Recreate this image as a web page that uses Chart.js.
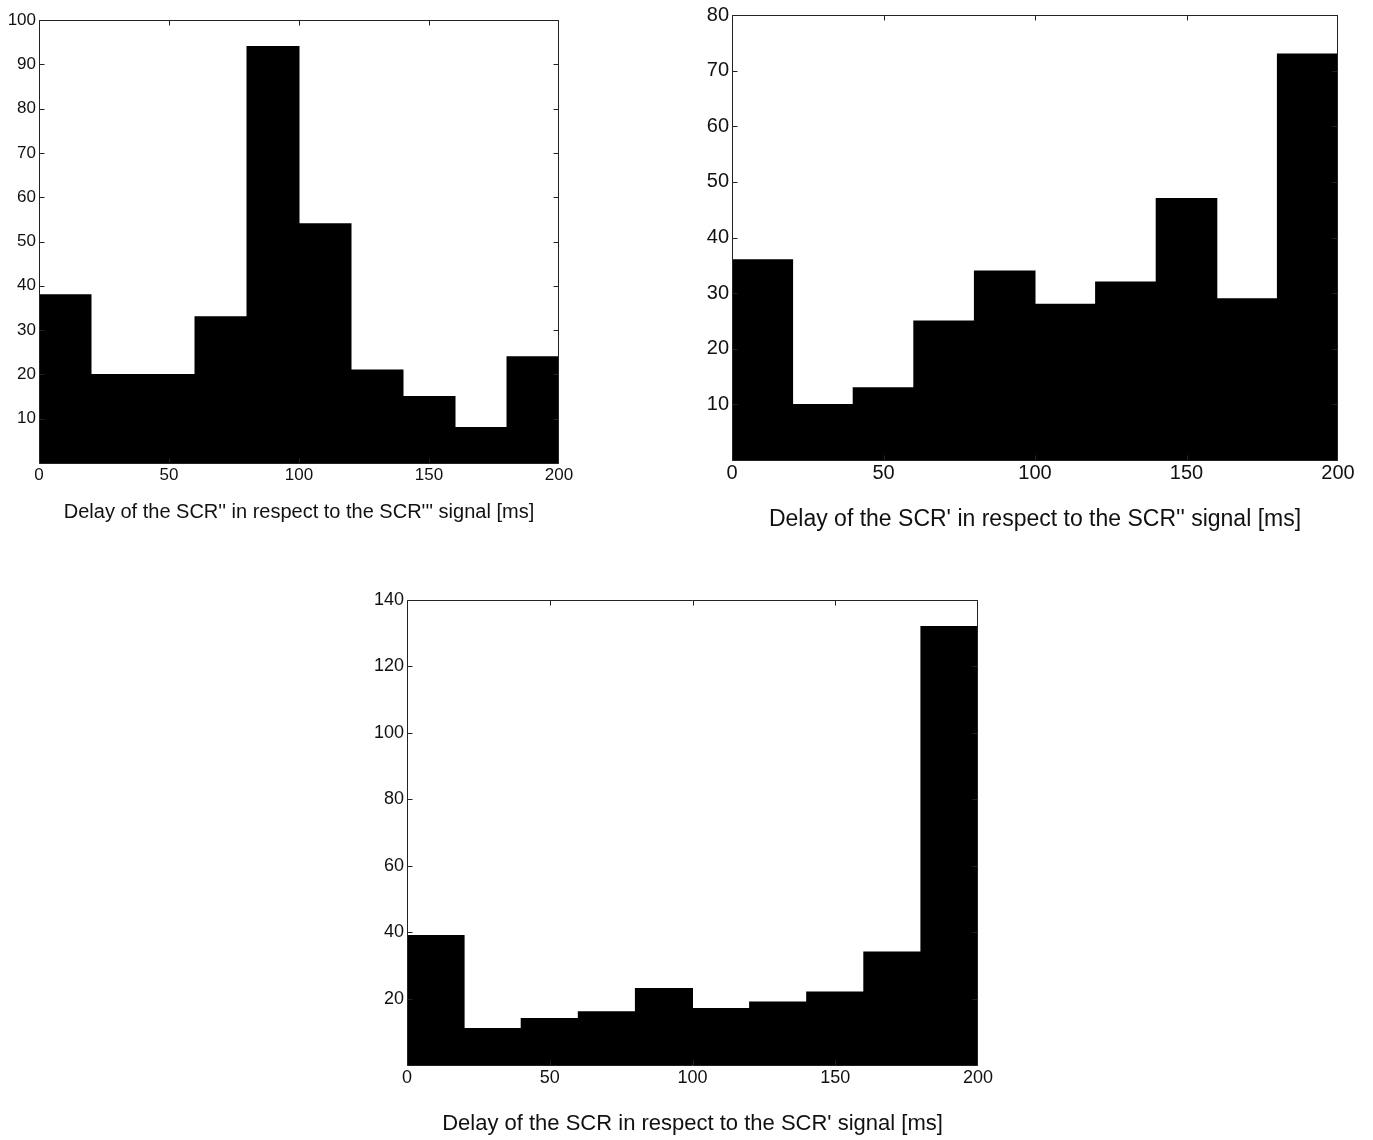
<!DOCTYPE html>
<html>
<head>
<meta charset="utf-8">
<script src="https://cdn.jsdelivr.net/npm/chart.js@4/dist/chart.umd.min.js"></script>
<style>
  body { margin: 0; background: #fff; width: 1373px; height: 1140px; position: relative; overflow: hidden; }
  canvas { position: absolute; }
</style>
</head>
<body>
<canvas id="hist1" width="600" height="530" style="left:0px;top:0px"></canvas>
<canvas id="hist2" width="683" height="540" style="left:690px;top:0px"></canvas>
<canvas id="hist3" width="700" height="570" style="left:340px;top:570px"></canvas>
<script>
// bin centres of the 20 ms wide bins
const binCenters = [10, 30, 50, 70, 90, 110, 130, 150, 170, 190];
const xTicks = [0, 50, 100, 150, 200];

// counts per bin
const countsScr2 = [38, 20, 20, 33, 94, 54, 21, 15, 8, 24];
const countsScr1 = [36, 10, 13, 25, 34, 28, 32, 47, 29, 73];
const countsScr0 = [39, 11, 14, 16, 23, 17, 19, 22, 34, 132];

const yTicks1 = [10, 20, 30, 40, 50, 60, 70, 80, 90, 100];
const yTicks2 = [10, 20, 30, 40, 50, 60, 70, 80];
const yTicks3 = [20, 40, 60, 80, 100, 120, 140];

Chart.defaults.font.family = "'Liberation Sans', Arial, sans-serif";

// MATLAB-like box with ticks pointing inward
const frame = {
  id: 'frame',
  afterDatasetsDraw(chart) {
    const { ctx, chartArea: a, scales: { x, y } } = chart;
    const left = Math.round(a.left) + 0.5, right = Math.round(a.right) - 0.5;
    const top = Math.round(a.top) + 0.5, bottom = Math.round(a.bottom) + 0.5;
    ctx.save();
    ctx.strokeStyle = '#222';
    ctx.lineWidth = 1;
    ctx.beginPath();
    x.ticks.forEach(t => {
      const px = Math.min(Math.round(x.getPixelForValue(t.value)) + 0.5, right);
      ctx.moveTo(px, bottom); ctx.lineTo(px, bottom - 5);
      ctx.moveTo(px, top); ctx.lineTo(px, top + 5);
    });
    y.ticks.forEach(t => {
      const py = Math.max(Math.round(y.getPixelForValue(t.value)) + 0.5, top);
      ctx.moveTo(left, py); ctx.lineTo(left + 5, py);
      ctx.moveTo(right, py); ctx.lineTo(right - 5, py);
    });
    ctx.rect(left, top, right - left, bottom - top);
    ctx.stroke();
    ctx.restore();
  }
};

function histogram(id, counts, yMax, yTicks, label, s) {
  return new Chart(document.getElementById(id), {
    type: 'bar',
    data: {
      datasets: [{
        data: binCenters.map((c, i) => ({ x: c, y: counts[i] })),
        backgroundColor: '#000',
        borderWidth: 0,
        barPercentage: 1,
        categoryPercentage: 1,
        inflateAmount: 0.5
      }]
    },
    options: {
      responsive: false,
      animation: false,
      devicePixelRatio: 1,
      layout: { padding: s.pad },
      plugins: { legend: { display: false }, tooltip: { enabled: false } },
      scales: {
        x: {
          type: 'linear', min: 0, max: 200, offset: false,
          grid: { display: false, drawTicks: false },
          border: { display: false },
          afterBuildTicks: sc => { sc.ticks = xTicks.map(v => ({ value: v })); },
          afterFit: sc => { sc.height = s.xh; },
          ticks: { font: { size: s.tick }, color: '#111', padding: s.tickPad, maxRotation: 0, autoSkip: false },
          title: { display: true, text: label, font: { size: s.title }, color: '#111', padding: { top: 0, bottom: s.titlePad } }
        },
        y: {
          min: 0, max: yMax,
          grid: { display: false, drawTicks: false },
          border: { display: false },
          afterBuildTicks: sc => { sc.ticks = yTicks.map(v => ({ value: v })); },
          afterFit: sc => { sc.width = s.yw; },
          ticks: { font: { size: s.tick }, color: '#111', padding: 3 }
        }
      }
    },
    plugins: [frame]
  });
}

histogram('hist1', countsScr2, 100, yTicks1, "Delay of the SCR'' in respect to the SCR''' signal [ms]",
  { pad: { left: 0, top: 20, right: 41, bottom: 0 }, yw: 39, xh: 67, tick: 17, tickPad: 2, title: 20, titlePad: 6 });
histogram('hist2', countsScr1, 80, yTicks2, "Delay of the SCR' in respect to the SCR'' signal [ms]",
  { pad: { left: 0, top: 13, right: 35, bottom: 0 }, yw: 42, xh: 80, tick: 20, tickPad: 1, title: 23, titlePad: 7 });
histogram('hist3', countsScr0, 140, yTicks3, "Delay of the SCR in respect to the SCR' signal [ms]",
  { pad: { left: 0, top: 30, right: 62, bottom: 0 }, yw: 67, xh: 75, tick: 18, tickPad: 2, title: 22, titlePad: 3 });
</script>
</body>
</html>
